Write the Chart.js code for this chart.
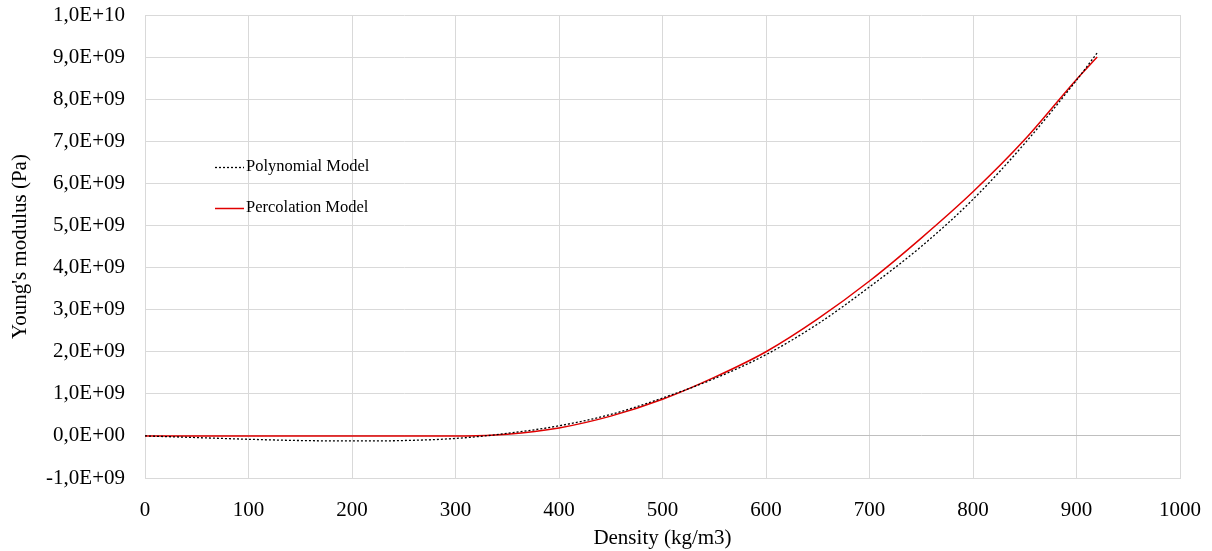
<!DOCTYPE html>
<html>
<head>
<meta charset="utf-8">
<script src="https://cdn.jsdelivr.net/npm/chart.js@4/dist/chart.umd.min.js"></script>
<style>
  html, body { margin: 0; padding: 0; background: #fff; }
  #wrap { width: 1212px; height: 551px; position: relative; }
</style>
</head>
<body>
<div id="wrap"><canvas id="modulusChart"></canvas></div>
<script>
// Density (kg/m3) vs Young's modulus (Pa)
const polyDensity = [0, 50, 100, 150, 200, 250, 300, 350, 400, 450, 500, 550, 600, 650, 700, 750, 800, 850, 900, 920];
const polyModulus = [0, -0.04e9, -0.08e9, -0.11e9, -0.12e9, -0.11e9, -0.06e9, 0.06e9, 0.24e9, 0.51e9,
                     0.90e9, 1.36e9, 1.93e9, 2.66e9, 3.54e9, 4.50e9, 5.62e9, 6.95e9, 8.45e9, 9.10e9];

const percDensity = [0, 100, 200, 300, 310, 350, 400, 450, 500, 550, 600, 650, 700, 750, 800, 850, 900, 920];
const percModulus = [0, 0, 0, 0, 0, 0.04e9, 0.19e9, 0.47e9, 0.87e9, 1.39e9, 2.0e9, 2.78e9, 3.68e9,
                     4.70e9, 5.80e9, 7.04e9, 8.47e9, 9.0e9];

const yTickLabels = ['-1,0E+09', '0,0E+00', '1,0E+09', '2,0E+09', '3,0E+09', '4,0E+09', '5,0E+09',
                     '6,0E+09', '7,0E+09', '8,0E+09', '9,0E+09', '1,0E+10'];

const toPoints = (xs, ys) => xs.map((x, i) => ({ x: x, y: ys[i] }));

// legend drawn inside the plot, like the original
const insideLegend = {
    id: 'insideLegend',
    afterDraw(chart) {
        const ctx = chart.ctx;
        const rows = [
            { y: 167, ds: chart.data.datasets[0] },
            { y: 208, ds: chart.data.datasets[1] }
        ];
        ctx.save();
        ctx.font = '16.5px "Liberation Serif", "Times New Roman", serif';
        ctx.textBaseline = 'middle';
        rows.forEach(r => {
            ctx.beginPath();
            ctx.strokeStyle = r.ds.borderColor;
            ctx.lineWidth = r.ds.borderWidth;
            ctx.setLineDash(r.ds.borderDash || []);
            ctx.moveTo(215, r.y + 0.5);
            ctx.lineTo(244, r.y + 0.5);
            ctx.stroke();
            ctx.setLineDash([]);
            ctx.fillStyle = '#000';
            ctx.fillText(r.ds.label, 246, r.y);
        });
        ctx.restore();
    }
};

const serif = '"Liberation Serif", "Times New Roman", serif';

new Chart(document.getElementById('modulusChart'), {
    type: 'line',
    data: {
        datasets: [{
            label: 'Polynomial Model',
            data: toPoints(polyDensity, polyModulus),
            borderColor: '#000000',
            borderWidth: 1.3,
            borderDash: [2, 2],
            pointRadius: 0,
            cubicInterpolationMode: 'monotone'
        }, {
            label: 'Percolation Model',
            data: toPoints(percDensity, percModulus),
            borderColor: '#e00000',
            borderWidth: 1.5,
            pointRadius: 0,
            cubicInterpolationMode: 'monotone'
        }]
    },
    options: {
        responsive: true,
        maintainAspectRatio: false,
        animation: false,
        layout: {
            padding: { top: 15, right: 32, left: 0, bottom: 0 }
        },
        plugins: {
            legend: { display: false },
            tooltip: { enabled: false }
        },
        scales: {
            x: {
                type: 'linear',
                min: 0,
                max: 1000,
                ticks: {
                    stepSize: 100,
                    padding: 20,
                    color: '#000',
                    font: { family: serif, size: 21 },
                    callback: (value) => String(value)
                },
                grid: { color: '#d9d9d9', drawTicks: false },
                border: { color: '#d9d9d9' },
                title: {
                    display: true,
                    text: 'Density (kg/m3)',
                    color: '#000',
                    font: { family: serif, size: 21 },
                    padding: { top: 2, bottom: 0 }
                },
                afterFit: (scale) => {
                    scale.height = 73;
                    scale.paddingLeft = 0;
                    scale.paddingRight = 0;
                }
            },
            y: {
                min: -1e9,
                max: 1e10,
                ticks: {
                    stepSize: 1e9,
                    padding: 20,
                    color: '#000',
                    font: { family: serif, size: 21 },
                    callback: (value, index) => yTickLabels[index]
                },
                grid: {
                    drawTicks: false,
                    color: (c) => c.tick && c.tick.value === 0 ? '#bfbfbf' : '#d9d9d9'
                },
                border: { color: '#d9d9d9' },
                title: {
                    display: true,
                    text: "Young's modulus (Pa)",
                    color: '#000',
                    font: { family: serif, size: 21 },
                    padding: { top: 8, bottom: 0 }
                },
                afterFit: (scale) => {
                    scale.width = 145;
                    scale.paddingTop = 0;
                    scale.paddingBottom = 0;
                }
            }
        }
    },
    plugins: [insideLegend]
});
</script>
</body>
</html>
